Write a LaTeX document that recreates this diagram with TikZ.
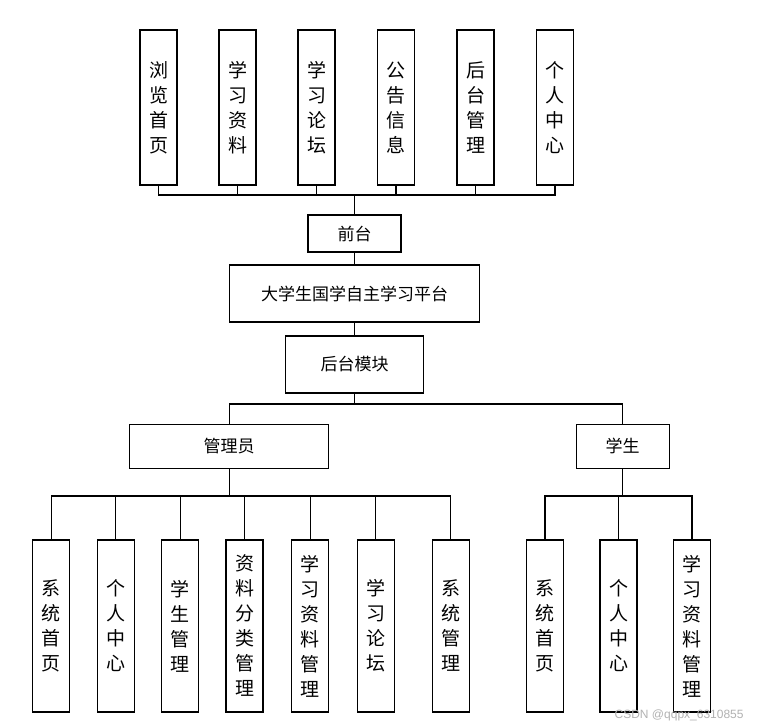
\documentclass[tikz,border=0pt]{standalone}
\usepackage{fontspec}
\setmainfont{Noto Sans CJK SC}
\newfontfamily\wmfont{Liberation Sans}
\begin{document}
\begin{tikzpicture}[x=1pt,y=-1pt,
  line width=1.3pt,
  vbox/.style={draw,rectangle,inner sep=0pt,minimum width=37pt,align=center,
    font={\fontsize{19}{25}\selectfont}},
  topbox/.style={vbox,minimum height=155pt},
  botbox/.style={vbox,minimum height=172pt},
  hbox/.style={draw,rectangle,inner sep=0pt,font={\fontsize{17}{20}\selectfont}},
  link/.style={draw,line width=1.3pt}
]
\useasboundingbox (0,0) rectangle (774,727);
\fill[white] (0,0) rectangle (774,727);
% top boxes
\node[topbox] (t1) at (158.5,107.5) {浏\\览\\首\\页};
\node[topbox] (t2) at (237.5,107.5) {学\\习\\资\\料};
\node[topbox] (t3) at (316.5,107.5) {学\\习\\论\\坛};
\node[topbox] (t4) at (396,107.5) {公\\告\\信\\息};
\node[topbox] (t5) at (475.5,107.5) {后\\台\\管\\理};
\node[topbox] (t6) at (555,107.5) {个\\人\\中\\心};
\coordinate (bus1) at (354.5,195);
% middle
\node[hbox,minimum width=93pt,minimum height=37pt] (qt) at (354.5,233.5) {前台};
\node[hbox,minimum width=250pt,minimum height=57pt] (pt) at (354.5,293.5) {大学生国学自主学习平台};
\node[hbox,minimum width=138pt,minimum height=57pt] (hm) at (354.5,364.5) {后台模块};
\coordinate (bus2) at (354.5,404);
\node[hbox,minimum width=199pt,minimum height=44pt] (gly) at (229.2,446.3) {管理员};
\node[hbox,minimum width=93pt,minimum height=44pt] (xs) at (622.7,446.3) {学生};
\coordinate (bus3) at (229.2,496);
\coordinate (bus4) at (622.7,496);
% admin boxes
\node[botbox] (a1) at (51.3,626) {系\\统\\首\\页};
\node[botbox] (a2) at (115.8,626) {个\\人\\中\\心};
\node[botbox] (a3) at (180.2,626) {学\\生\\管\\理};
\node[botbox] (a4) at (244.5,626) {资\\料\\分\\类\\管\\理};
\node[botbox] (a5) at (310.2,626) {学\\习\\资\\料\\管\\理};
\node[botbox] (a6) at (375.8,626) {学\\习\\论\\坛};
\node[botbox] (a7) at (450.7,626) {系\\统\\管\\理};
% student boxes
\node[botbox] (s1) at (545,626) {系\\统\\首\\页};
\node[botbox] (s2) at (618.5,626) {个\\人\\中\\心};
\node[botbox] (s3) at (692,626) {学\\习\\资\\料\\管\\理};
% connectors
\foreach \n in {t1,t2,t3,t4,t5,t6} \draw[link] (\n.south) |- (bus1);
\draw[link] (bus1) -- (qt.north);
\draw[link] (qt) -- (pt);
\draw[link] (pt) -- (hm);
\draw[link] (hm.south) -- (bus2);
\draw[link] (bus2) -| (gly.north);
\draw[link] (bus2) -| (xs.north);
\draw[link] (gly.south) -- (bus3);
\foreach \n in {a1,a2,a3,a4,a5,a6,a7} \draw[link] (bus3) -| (\n.north);
\draw[link] (xs.south) -- (bus4);
\foreach \n in {s1,s2,s3} \draw[link] (bus4) -| (\n.north);
% watermark
\node[anchor=base west,inner sep=0pt,text=black!30,font={\wmfont\fontsize{12}{14}\selectfont}] (wm) at (614,718) {CSDN @qqpx\_6310855};
\end{tikzpicture}
\end{document}
